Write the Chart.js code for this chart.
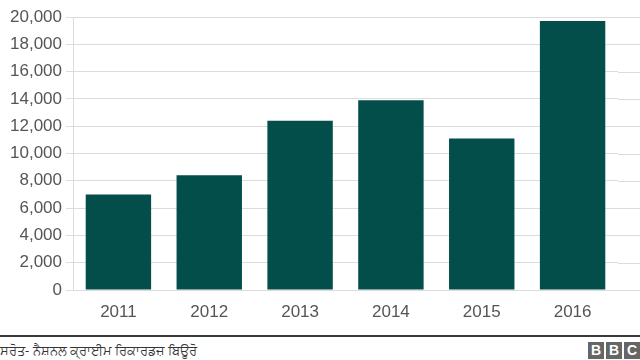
<!DOCTYPE html>
<html>
<head>
<meta charset="utf-8">
<script src="https://cdn.jsdelivr.net/npm/chart.js@4"></script>
<style>
  html, body { margin: 0; padding: 0; background: #fff; }
  #wrap { position: relative; width: 640px; height: 360px; overflow: hidden; font-family: "Liberation Sans", Arial, sans-serif; }
  #chart-box { position: absolute; left: 0; top: 0; width: 640px; height: 328px; }
  #rule { position: absolute; left: 0; top: 335px; width: 640px; height: 2px; background: #3a3a3a; }
  #source { position: absolute; left: 0; top: 341px; font-size: 13px; color: #333; font-family: "Noto Sans", "Liberation Sans", sans-serif; white-space: nowrap; }
  #bbc { position: absolute; right: 0; top: 342px; display: flex; gap: 2px; }
  #bbc span { width: 16px; height: 17px; background: #666; color: #fff; font-weight: bold; font-size: 14px; line-height: 17px; text-align: center; font-family: "Liberation Sans", Arial, sans-serif; }
</style>
</head>
<body>
<div id="wrap">
  <div id="chart-box"><canvas id="bar-chart"></canvas></div>
  <div id="rule"></div>
  <div id="source">ਸਰੋਤ- ਨੈਸ਼ਨਲ ਕ੍ਰਾਈਮ ਰਿਕਾਰਡਜ਼ ਬਿਊਰੋ</div>
  <div id="bbc"><span>B</span><span>B</span><span>C</span></div>
</div>
<script>
const years = ['2011', '2012', '2013', '2014', '2015', '2016'];
const cases = [7000, 8400, 12400, 13900, 11100, 19700];
const yTicks = [0, 2000, 4000, 6000, 8000, 10000, 12000, 14000, 16000, 18000, 20000];

// gridlines in the original run past the last bar to the edge of the picture
const extendGrid = {
    id: 'extendGrid',
    beforeDatasetsDraw(chart) {
        const ctx = chart.ctx;
        const y = chart.scales.y;
        ctx.save();
        ctx.strokeStyle = '#dcdcdc';
        ctx.lineWidth = 1;
        yTicks.forEach(v => {
            const py = Math.round(y.getPixelForValue(v)) + 0.5;
            ctx.beginPath();
            ctx.moveTo(chart.chartArea.right, py);
            ctx.lineTo(chart.width, py);
            ctx.stroke();
        });
        ctx.restore();
    }
};

new Chart(document.getElementById('bar-chart'), {
    type: 'bar',
    data: {
        labels: years,
        datasets: [{
            data: cases,
            backgroundColor: '#034d4a',
            borderWidth: 0,
            categoryPercentage: 0.72,
            barPercentage: 1
        }]
    },
    options: {
        responsive: true,
        maintainAspectRatio: false,
        animation: false,
        layout: { padding: { top: 17, right: 22, left: 0, bottom: 0 } },
        plugins: { legend: { display: false }, tooltip: { enabled: false } },
        scales: {
            x: {
                grid: { display: false, drawTicks: false },
                border: { display: false },
                ticks: { color: '#555', font: { family: '"Liberation Sans", Arial', size: 17 }, padding: 12 },
                afterFit: s => { s.height = 38; }
            },
            y: {
                min: 0,
                max: 20000,
                afterBuildTicks: s => { s.ticks = yTicks.map(v => ({ value: v })); },
                grid: { color: '#dcdcdc', tickLength: 7 },
                border: { display: true, color: '#dcdcdc' },
                ticks: {
                    color: '#555',
                    font: { family: '"Liberation Sans", Arial', size: 17 },
                    padding: 4,
                    callback: v => v.toLocaleString('en-US')
                },
                afterFit: s => { s.width = 73; }
            }
        }
    },
    plugins: [extendGrid]
});
</script>
</body>
</html>
